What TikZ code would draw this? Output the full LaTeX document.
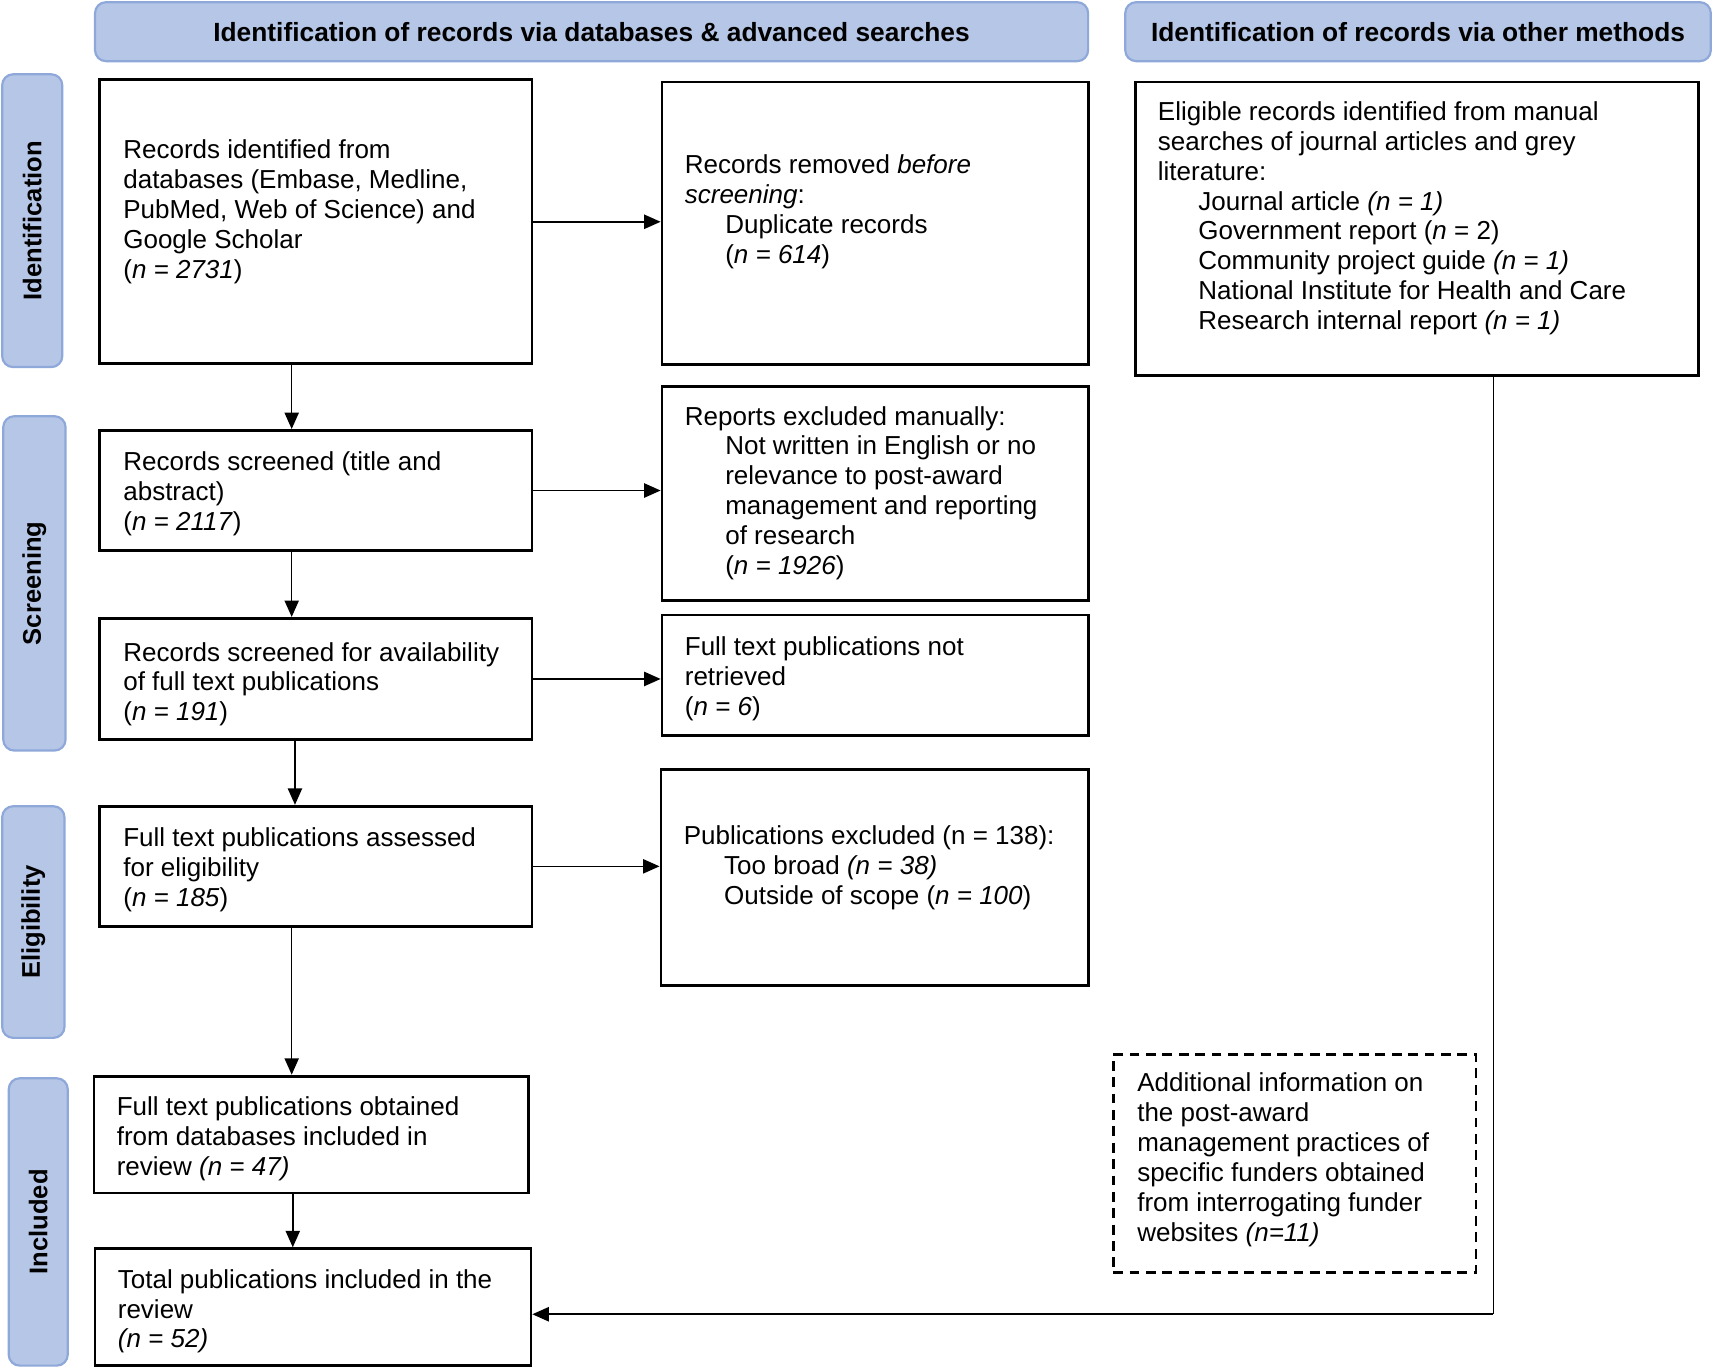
\documentclass[tikz,border=0pt]{standalone}
\usepackage{fontspec}
\setmainfont{Liberation Sans}
\usetikzlibrary{arrows.meta,calc}
\definecolor{hdrfill}{RGB}{182,198,230}
\definecolor{hdrline}{RGB}{143,168,218}
\newcommand{\ind}{\hspace*{37pt}}
\begin{document}
\begin{tikzpicture}[x=1pt,y=-1pt,
  every node/.style={font=\fontsize{23.8}{27.4}\selectfont},
  hdr/.style={draw=hdrline, line width=2pt, fill=hdrfill, rounded corners=10pt, inner sep=0pt, font=\fontsize{24.1}{27.4}\selectfont\bfseries},
  side/.style={draw=hdrline, line width=2pt, fill=hdrfill, rounded corners=10pt, inner sep=0pt, rotate=90, font=\fontsize{23.4}{27}\selectfont\bfseries},
  box/.style={draw=black, line width=2.6pt, inner sep=0pt},
  dbox/.style={draw=black, line width=2.4pt, dash pattern=on 9pt off 6pt, inner sep=0pt},
  txt/.style={anchor=north west, inner sep=0pt, align=left},
  arr/.style={line width=1.4pt, -{Triangle[length=15pt,width=13pt]}},
  ln/.style={line width=1.4pt}]
\useasboundingbox (0,0) rectangle (1568,1252);

% headers
\node[hdr, minimum width=909pt, minimum height=54pt] (h1) at (541.5,29) {Identification of records via databases \& advanced searches};
\node[hdr, minimum width=536pt, minimum height=54pt] (h2) at (1298,29) {Identification of records via other methods};

% side labels
\node[side, minimum width=268pt, minimum height=55pt] (s1) at (29.5,202) {Identification};
\node[side, minimum width=306pt, minimum height=57pt] (s2) at (31.5,534) {Screening};
\node[side, minimum width=212pt, minimum height=57pt] (s3) at (30.5,844) {Eligibility};
\node[side, minimum width=263pt, minimum height=54pt] (s4) at (35,1118.5) {Included};

% boxes
\node[box, minimum width=396pt, minimum height=260pt] (A) at (289,203) {};
\node[box, minimum width=390pt, minimum height=259pt] (B) at (801,204.5) {};
\node[box, minimum width=516pt, minimum height=269pt] (C) at (1297,209.5) {};
\node[box, minimum width=396pt, minimum height=110pt] (D) at (289,449) {};
\node[box, minimum width=390pt, minimum height=196pt] (E) at (801,452) {};
\node[box, minimum width=396pt, minimum height=111pt] (F) at (289,621.5) {};
\node[box, minimum width=390pt, minimum height=110pt] (G) at (801,618) {};
\node[box, minimum width=396pt, minimum height=110pt] (H) at (289,793) {};
\node[box, minimum width=391pt, minimum height=198pt] (I) at (800.5,803) {};
\node[box, minimum width=398pt, minimum height=107pt] (J) at (285,1038.5) {};
\node[box, minimum width=399pt, minimum height=107pt] (K) at (286.5,1196.5) {};
\node[dbox, minimum width=332pt, minimum height=200pt] (L) at (1185,1065) {};

% texts
\node[txt] (At) at ($(A.north west)+(23,54)$) {\strut Records identified from\\ databases (Embase, Medline,\\ PubMed, Web of Science) and\\ Google Scholar\\ (\textit{n = 2731})};
\node[txt] (Bt) at ($(B.north west)+(22,66)$) {\strut Records removed \textit{before}\\ \textit{screening}:\\ \ind Duplicate records\\ \ind (\textit{n = 614})};
\node[txt] (Ct) at ($(C.north west)+(22,17)$) {\strut Eligible records identified from manual\\ searches of journal articles and grey\\ literature:\\ \ind Journal article \textit{(n = 1)}\\ \ind Government report (\textit{n} = 2)\\ \ind Community project guide \textit{(n = 1)}\\ \ind National Institute for Health and Care\\ \ind Research internal report \textit{(n = 1)}};
\node[txt] (Dt) at ($(D.north west)+(23,19)$) {\strut Records screened (title and\\ abstract)\\ (\textit{n = 2117})};
\node[txt] (Et) at ($(E.north west)+(22,17)$) {\strut Reports excluded manually:\\ \ind Not written in English or no\\ \ind relevance to post-award\\ \ind management and reporting\\ \ind of research\\ \ind (\textit{n = 1926})};
\node[txt] (Ft) at ($(F.north west)+(23,21)$) {\strut Records screened for availability\\ of full text publications\\ (\textit{n = 191})};
\node[txt] (Gt) at ($(G.north west)+(22,19)$) {\strut Full text publications not\\ retrieved\\ (\textit{n = 6})};
\node[txt] (Ht) at ($(H.north west)+(23,19)$) {\strut Full text publications assessed\\ for eligibility\\ (\textit{n = 185})};
\node[txt] (It) at ($(I.north west)+(22,51)$) {\strut Publications excluded (n = 138):\\ \ind Too broad \textit{(n = 38)}\\ \ind Outside of scope (\textit{n = 100})};
\node[txt] (Jt) at ($(J.north west)+(22,18)$) {\strut Full text publications obtained\\ from databases included in\\ review \textit{(n = 47)}};
\node[txt] (Kt) at ($(K.north west)+(22,18)$) {\strut Total publications included in the\\ review\\ \textit{(n = 52)}};
\node[txt] (Lt) at ($(L.north west)+(23,16)$) {\strut Additional information on\\ the post-award\\ management practices of\\ specific funders obtained\\ from interrogating funder\\ websites \textit{(n=11)}};

% vertical arrows
\draw[arr] ([xshift=-22pt]A.south) -- ([xshift=-22pt]A.south |- D.north);
\draw[arr] ([xshift=-22pt]D.south) -- ([xshift=-22pt]D.south |- F.north);
\draw[arr] ([xshift=-19pt]F.south) -- ([xshift=-19pt]F.south |- H.north);
\draw[arr] ([xshift=-22pt]H.south) -- ([xshift=-22pt]H.south |- J.north);
\draw[arr] ([xshift=-17pt]J.south) -- ([xshift=-17pt]J.south |- K.north);

% horizontal arrows
\draw[arr] (A.east) -- (A.east -| B.west);
\draw[arr] (D.east) -- (D.east -| E.west);
\draw[arr] (F.east) -- (F.east -| G.west);
\draw[arr] (H.east) -- (H.east -| I.west);

% other methods to total
\coordinate (turn) at (1367,1203);
\draw[ln] ([xshift=70pt]C.south) -- (turn);
\draw[arr] (turn) -- (turn -| K.east);
\end{tikzpicture}
\end{document}
